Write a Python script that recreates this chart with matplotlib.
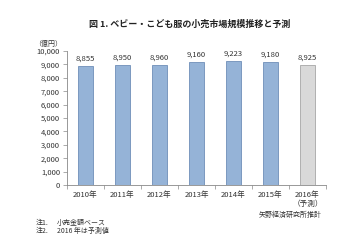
import numpy as np
import matplotlib.pyplot as plt

plt.rcParams['font.family'] = ['Noto Sans CJK JP', 'DejaVu Sans']

years = ["2010年", "2011年", "2012年", "2013年", "2014年", "2015年", "2016年\n（予測）"]
sales = [8855, 8950, 8960, 9160, 9223, 9180, 8925]
labels = ["8,855", "8,950", "8,960", "9,160", "9,223", "9,180", "8,925"]
is_forecast = [False, False, False, False, False, False, True]

fig = plt.figure(figsize=(3.6, 2.4), dpi=100)
ax = fig.add_axes([67 / 360, 1 - 185 / 240, 259 / 360, 134 / 240])

x = np.arange(len(years))
colors = ["#D9D9D9" if f else "#95B3D7" for f in is_forecast]
edges = ["#A6A6A6" if f else "#6F8FB8" for f in is_forecast]
ax.bar(x, sales, width=0.38, color=colors, edgecolor=edges, linewidth=0.6)

for xi, v, lab in zip(x, sales, labels):
    ax.text(xi, v + 250, lab, ha="center", va="bottom", fontsize=5.5, color="#333333")

ax.set_xlim(-0.5, len(years) - 0.5)
ax.set_ylim(0, 10000)
ax.set_yticks(np.arange(0, 10001, 1000))
ax.set_yticklabels([f"{v:,}" for v in range(0, 10001, 1000)], fontsize=5.5, color="#333333")
ax.set_xticks(x)
ax.set_xticklabels(years, fontsize=5.5, color="#333333")
ax.set_xticks(np.arange(-0.5, len(years), 1.0), minor=True)
ax.tick_params(axis="x", which="major", length=0, pad=4)
ax.tick_params(axis="x", which="minor", length=3, color="#888888", width=0.5)
ax.tick_params(axis="y", length=3, color="#888888", width=0.5, pad=2)

for s in ["top", "right"]:
    ax.spines[s].set_visible(False)
for s in ["left", "bottom"]:
    ax.spines[s].set_color("#888888")
    ax.spines[s].set_linewidth(0.6)

fig.text(190 / 360, 1 - 24 / 240, "図 1. ベビー・こども服の小売市場規模推移と予測",
         ha="center", va="center", fontsize=6.5, fontweight="bold", color="#222222")
fig.text(48 / 360, 1 - 44 / 240, "（億円）", ha="center", va="center", fontsize=5, color="#333333")
fig.text(290 / 360, 1 - 215 / 240, "矢野経済研究所推計", ha="center", va="center", fontsize=5, color="#333333")
fig.text(36 / 360, 1 - 223 / 240, "注1.", ha="left", va="center", fontsize=5, color="#333333")
fig.text(57 / 360, 1 - 223 / 240, "小売金額ベース", ha="left", va="center", fontsize=5, color="#333333")
fig.text(36 / 360, 1 - 231 / 240, "注2.", ha="left", va="center", fontsize=5, color="#333333")
fig.text(57 / 360, 1 - 231 / 240, "2016 年は予測値", ha="left", va="center", fontsize=5, color="#333333")

fig.savefig("out.png", dpi=100)
